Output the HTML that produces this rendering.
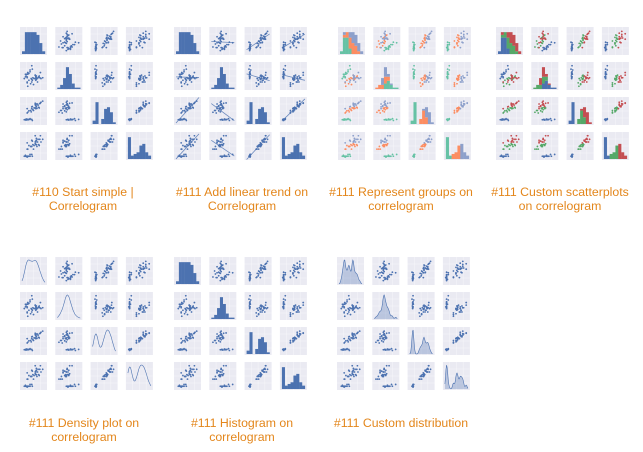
<!DOCTYPE html>
<html><head><meta charset="utf-8"><style>
body{margin:0;background:#fff;width:643px;height:452px;overflow:hidden;position:relative;font-family:"Liberation Sans",sans-serif}
svg{position:absolute;left:0;top:0}
.cap{position:absolute;width:160px;text-align:center;color:#e3861b;font-size:12.3px;line-height:14px}
</style></head><body>
<svg id="g" width="643" height="452"></svg>
<div class="cap" style="left:3px;top:185px">#110 Start simple |<br>Correlogram</div>
<div class="cap" style="left:162px;top:185px">#111 Add linear trend on<br>Correlogram</div>
<div class="cap" style="left:321px;top:185px">#111 Represent groups on<br>correlogram</div>
<div class="cap" style="left:480px;top:185px">#111 Custom scatterplots<br>on correlogram</div>
<div class="cap" style="left:4px;top:416px">#111 Density plot on<br>correlogram</div>
<div class="cap" style="left:162px;top:416px">#111 Histogram on<br>correlogram</div>
<div class="cap" style="left:321px;top:416px">#111 Custom distribution</div>
<script>
const sepalLength=[5.1,4.9,4.7,4.6,5.0,5.4,4.6,5.0,4.4,4.9,5.4,4.8,5.8,5.7,5.2, 7.0,6.4,6.9,5.5,6.5,5.7,6.3,4.9,6.6,5.2,5.0,5.9,6.0,6.1,5.6, 6.3,5.8,7.1,6.3,6.5,7.6,4.9,7.3,6.7,7.2,6.5,6.4,6.8,5.7,6.4];
const sepalWidth=[3.5,3.0,3.2,3.1,3.6,3.9,3.4,3.4,2.9,3.1,3.7,3.4,4.0,4.4,3.5, 3.2,3.2,3.1,2.3,2.8,2.8,3.3,2.4,2.9,2.7,2.0,3.0,2.2,2.9,2.9, 3.3,2.7,3.0,2.9,3.0,3.0,2.5,2.9,2.5,3.6,3.2,2.7,3.0,2.5,3.1];
const petalLength=[1.4,1.4,1.3,1.5,1.4,1.7,1.4,1.5,1.4,1.5,1.5,1.6,1.2,1.5,1.5, 4.7,4.5,4.9,4.0,4.6,4.5,4.7,3.3,4.6,3.9,3.5,4.2,4.0,4.7,3.6, 6.0,5.1,5.9,5.6,5.8,6.6,4.5,6.3,5.8,6.1,5.1,5.3,5.5,5.0,5.5];
const petalWidth=[0.2,0.2,0.2,0.2,0.2,0.4,0.3,0.2,0.2,0.1,0.2,0.2,0.2,0.4,0.2, 1.4,1.5,1.5,1.3,1.5,1.3,1.6,1.0,1.3,1.4,1.0,1.5,1.0,1.4,1.3, 2.5,1.9,2.1,1.8,2.2,2.1,1.7,1.8,1.8,2.5,2.0,1.9,2.1,2.0,1.8];
const species=[0,0,0,0,0,0,0,0,0,0,0,0,0,0,0,1,1,1,1,1,1,1,1,1,1,1,1,1,1,1,2,2,2,2,2,2,2,2,2,2,2,2,2,2,2];
const vars=[sepalLength,sepalWidth,petalLength,petalWidth];
const ranges=[[4,8],[1.8,4.6],[0.5,7.2],[0,2.7]];
const thumbs=[[20,27,'plain'],[174,27,'trend'],[338,27,'groups'],[496,27,'custom'],[20,257,'density'],[174,257,'plain'],[337,257,'kde']];
const NS='http://www.w3.org/2000/svg',svg=document.getElementById('g');
function el(t,a,p){const e=document.createElementNS(NS,t);for(const k in a)e.setAttribute(k,a[k]);(p||svg).appendChild(e);return e;}
const W=27,H=28,PX=35.3,PY=35;
const grp={groups:['#66c2a5','#fc8d62','#8da0cb'],custom:['#4c72b0','#55a868','#c44e52']};
thumbs.forEach((t,ti)=>{
 const [ox,oy,kind]=t;
 const gT=el('g',{});
 
 
 for(let r=0;r<4;r++)for(let c=0;c<4;c++){
  const x0=ox+c*PX,y0=oy+r*PY;
  const gp=el('g',{},gT);
  
  
  el('rect',{x:x0,y:y0,width:W,height:H,fill:'#eaeaf2'},gp);
  for(let k=1;k<4;k++){el('line',{x1:x0+k*W/4,x2:x0+k*W/4,y1:y0,y2:y0+H,stroke:'#fff','stroke-width':0.3},gp);el('line',{y1:y0+k*H/4,y2:y0+k*H/4,x1:x0,x2:x0+W,stroke:'#fff','stroke-width':0.3},gp);}
  const sx=v=>x0+2+(v-ranges[c][0])/(ranges[c][1]-ranges[c][0])*(W-4);
  const sy=(v,i)=>y0+H-2-(v-ranges[i][0])/(ranges[i][1]-ranges[i][0])*(H-4);
  if(r!==c){
   const X=vars[c],Y=vars[r];
   X.forEach((v,i)=>{
    const col=grp[kind]?grp[kind][species[i]]:'#4c72b0';
    const d=el('circle',{cx:sx(v),cy:sy(Y[i],r),r:0.9,fill:col},gp);
    
    
   });
   if(kind==='trend'){
    const n=X.length,mx=X.reduce((a,b)=>a+b)/n,my=Y.reduce((a,b)=>a+b)/n;
    let sxy=0,sxx=0;X.forEach((v,i)=>{sxy+=(v-mx)*(Y[i]-my);sxx+=(v-mx)**2;});
    const b=sxy/sxx,a=my-b*mx,[lo,hi]=ranges[c];
    const ln=el('line',{x1:sx(lo),y1:Math.max(y0,Math.min(y0+H,sy(a+b*lo,r))),x2:sx(hi),y2:Math.max(y0,Math.min(y0+H,sy(a+b*hi,r))),stroke:'#4c72b0','stroke-width':0.8,opacity:0.8},gp);
    
    
   }
  } else {
   const X=vars[c],[lo,hi]=ranges[c],nb=8,bw=(hi-lo)/nb;
   if(kind==='density'||kind==='kde'){
    const bwK=(hi-lo)*(kind==='kde'?0.04:0.1);let pts=[],mx=0;
    for(let k=0;k<=40;k++){const v=lo+(hi-lo)*k/40;let s=0;X.forEach(u=>s+=Math.exp(-0.5*((v-u)/bwK)**2));pts.push([v,s]);mx=Math.max(mx,s);}
    const P=pts.map(p=>[sx(p[0]),y0+H-1-p[1]/mx*(H-4)]);
    let d='M'+P.map(p=>p[0].toFixed(1)+','+p[1].toFixed(1)).join('L');
    if(kind==='kde') {const f=el('path',{d:d+'L'+P[P.length-1][0]+','+(y0+H-1)+'L'+P[0][0]+','+(y0+H-1)+'Z',fill:'#4c72b0',opacity:0.3},gp);}
    const l=el('path',{d:d,fill:'none',stroke:'#4c72b0','stroke-width':0.6},gp);
    
    
   } else {
    const cnt=[[],[],[]].map(()=>Array(nb).fill(0));
    X.forEach((v,i)=>{const b=Math.min(nb-1,Math.floor((v-lo)/bw));cnt[grp[kind]?species[i]:0][b]++;});
    const tot=Array(nb).fill(0).map((_,b)=>cnt[0][b]+cnt[1][b]+cnt[2][b]);
    const mx=Math.max(...tot);
    for(let b=0;b<nb;b++){let acc=0;
     for(let s=0;s<3;s++){const h=cnt[s][b]/mx*(H*0.78);if(!h)continue;
      const col=grp[kind]?grp[kind][s]:'#4c72b0';
      const rc=el('rect',{x:sx(lo+b*bw),y:y0+H-1-acc-h,width:(W-4)/nb+0.2,height:h,fill:col},gp);
      
      
      acc+=h;}
    }
   }
  }
 }
});
</script>
</body></html>
